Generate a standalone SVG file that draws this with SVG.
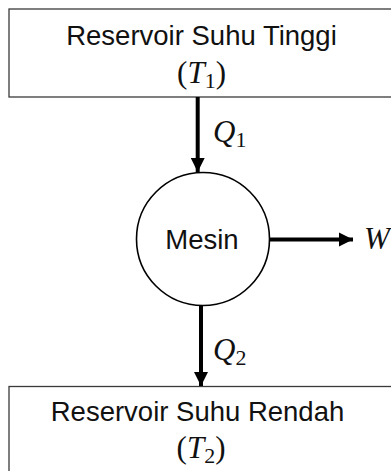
<svg xmlns="http://www.w3.org/2000/svg" width="391" height="471" viewBox="0 0 391 471">
<defs>
<style>
.box{fill:#fff;stroke:#3a3a3a;stroke-width:1.3}
.lbl{font-family:"Liberation Sans",Arial,sans-serif;font-size:27.5px;fill:#111;text-anchor:middle}
.m{font-family:"Liberation Serif","Times New Roman",serif;font-size:31px;fill:#111;font-style:italic}
.sub{font-style:normal;font-size:22px}
.par{font-style:normal}
.conn{stroke:#000;stroke-width:4;fill:none}
</style>
<marker id="ah" viewBox="0 0 10 10" refX="10" refY="5" markerWidth="3.6" markerHeight="3.6" orient="auto" markerUnits="strokeWidth">
<path d="M0,0 L10,5 L0,10 z" fill="#000"/>
</marker>
</defs>
<g id="hot">
<rect class="box" x="9" y="9" width="390" height="88"/>
<text class="lbl" x="201.5" y="45">Reservoir Suhu Tinggi</text>
<text class="m" x="201.5" y="83" text-anchor="middle"><tspan class="par">(</tspan>T<tspan class="sub" dy="5">1</tspan><tspan class="par" dy="-5">)</tspan></text>
</g>
<g id="engine">
<circle cx="203" cy="239" r="66.5" fill="#fff" stroke="#000" stroke-width="1.6"/>
<text class="lbl" x="202" y="249">Mesin</text>
</g>
<g id="cold">
<rect class="box" x="9" y="386.5" width="390" height="100"/>
<text class="lbl" x="197.5" y="421">Reservoir Suhu Rendah</text>
<text class="m" x="201" y="458" text-anchor="middle"><tspan class="par">(</tspan>T<tspan class="sub" dy="5">2</tspan><tspan class="par" dy="-5">)</tspan></text>
</g>
<g id="connectors">
<line class="conn" x1="197.7" y1="97" x2="197.7" y2="172" marker-end="url(#ah)"/>
<line class="conn" x1="201" y1="306" x2="201" y2="386" marker-end="url(#ah)"/>
<line class="conn" x1="269.5" y1="239.5" x2="353" y2="239.5" marker-end="url(#ah)"/>
<text class="m" x="213" y="142">Q<tspan class="sub" dy="5">1</tspan></text>
<text class="m" x="213" y="360">Q<tspan class="sub" dy="5">2</tspan></text>
<text class="m" x="364" y="249">W</text>
</g>
</svg>
